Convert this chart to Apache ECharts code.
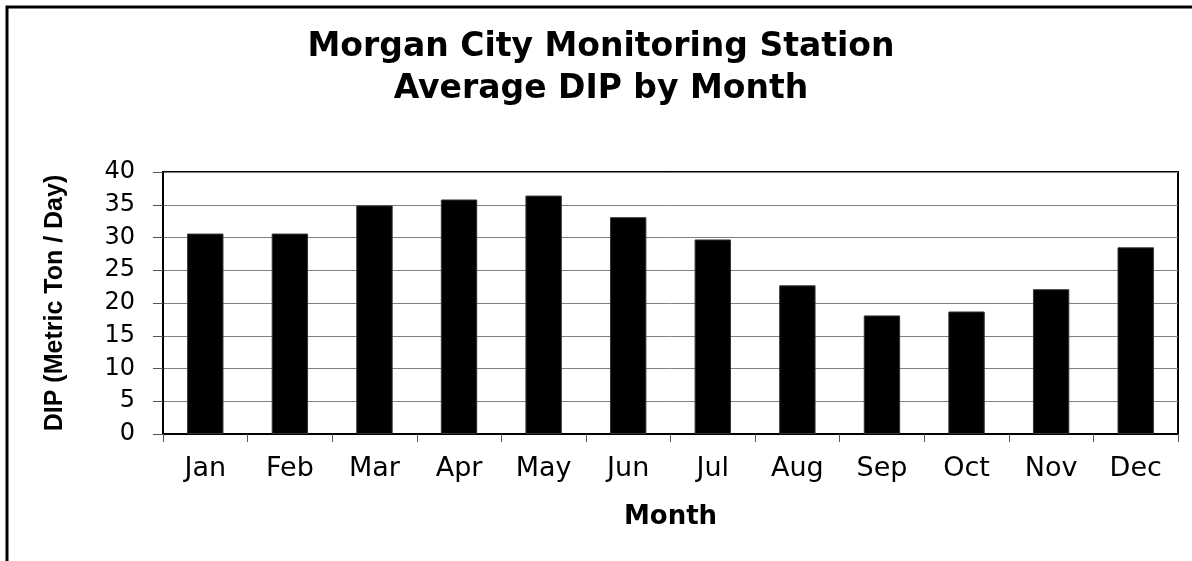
<!DOCTYPE html>
<html>
<head>
<meta charset="utf-8">
<script src="https://cdn.jsdelivr.net/npm/echarts@6/dist/echarts.min.js"></script>
<style>
  html, body { margin: 0; padding: 0; background: #fff; }
  #chart { width: 1192px; height: 561px; }
</style>
</head>
<body>
<div id="chart"></div>
<script>
  // data
  var months = ['Jan', 'Feb', 'Mar', 'Apr', 'May', 'Jun', 'Jul', 'Aug', 'Sep', 'Oct', 'Nov', 'Dec'];
  var dipValues = [30.6, 30.6, 34.9, 35.8, 36.4, 33.1, 29.7, 22.7, 18.1, 18.7, 22.1, 28.5];
  var yTicks = [0, 5, 10, 15, 20, 25, 30, 35, 40];

  var myChart = echarts.init(document.getElementById('chart'));

  var option = {
    animation: false,
    backgroundColor: '#fff',
    title: {
      text: 'Morgan City Monitoring Station\nAverage DIP by Month',
      left: 601,
      top: 26,
      padding: 0,
      textAlign: 'center',
      textStyle: {
        fontFamily: 'DejaVu Sans',
        fontWeight: 'bold',
        fontSize: 33,
        lineHeight: 42,
        color: '#000'
      }
    },
    graphic: [{
      // outer chart frame (runs off right / bottom edge)
      type: 'rect',
      shape: { x: 7, y: 7, width: 1220, height: 600 },
      style: { fill: 'none', stroke: '#000', lineWidth: 3 },
      silent: true
    }],
    grid: {
      left: 163,
      right: 14,
      top: 172,
      bottom: 127,
      show: true,
      borderColor: '#000',
      borderWidth: 2,
      backgroundColor: '#fff'
    },
    xAxis: {
      type: 'category',
      data: months,
      name: 'Month',
      nameLocation: 'middle',
      nameGap: 70,
      nameTextStyle: {
        fontFamily: 'DejaVu Sans',
        fontWeight: 'bold',
        fontSize: 26,
        color: '#000'
      },
      axisLine: { lineStyle: { color: '#000', width: 2 } },
      axisTick: { show: true, length: 8, lineStyle: { color: '#555' } },
      axisLabel: {
        interval: 0,
        margin: 21,
        fontFamily: 'DejaVu Sans',
        fontSize: 27,
        color: '#000'
      },
      splitLine: { show: false }
    },
    yAxis: {
      type: 'value',
      min: yTicks[0],
      max: yTicks[yTicks.length - 1],
      interval: 5,
      name: 'DIP (Metric Ton / Day)',
      nameLocation: 'middle',
      nameGap: 95,
      nameTextStyle: {
        fontFamily: 'Liberation Sans',
        fontWeight: 'bold',
        fontSize: 25,
        color: '#000'
      },
      axisLine: { show: true, lineStyle: { color: '#000', width: 2 } },
      axisTick: { show: true, length: 10, lineStyle: { color: '#555' } },
      axisLabel: {
        margin: 28,
        fontFamily: 'DejaVu Sans',
        fontSize: 24,
        color: '#000'
      },
      splitLine: { show: true, lineStyle: { color: '#808080', width: 1 } }
    },
    series: [{
      name: 'DIP',
      type: 'bar',
      data: dipValues,
      barWidth: '43%',
      itemStyle: { color: '#000', borderColor: '#333', borderWidth: 1 },
      emphasis: { disabled: true }
    }]
  };
  myChart.setOption(option);
</script>
</body>
</html>
